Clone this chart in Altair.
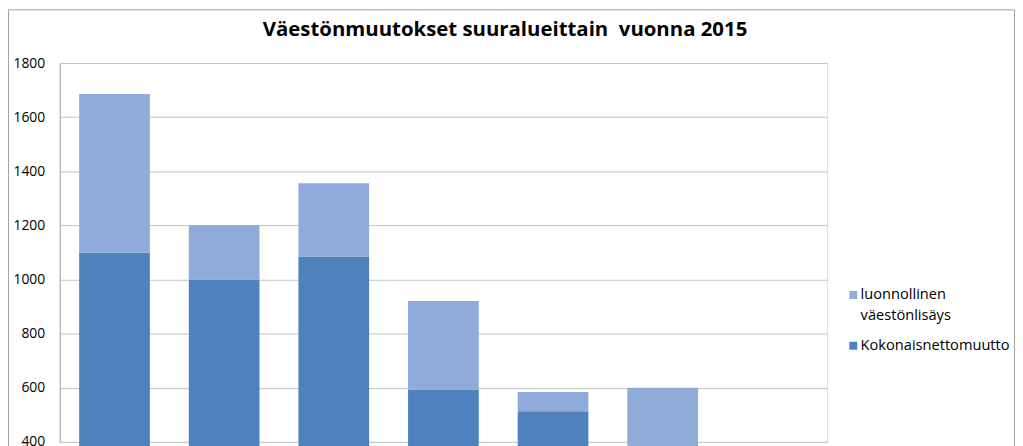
import altair as alt
import pandas as pd

categories = ["Eteläinen", "Läntinen", "Keskinen", "Pohjoinen", "Koillinen", "Kaakkoinen", "Itäinen"]
kokonaisnettomuutto = [1100, 1000, 1084, 593, 513, 180, 120]
luonnollinen = [586, 201, 272, 327, 71, 420, 230]
series = ["luonnollinen väestönlisäys", "Kokonaisnettomuutto"]
y_ticks = [400, 600, 800, 1000, 1200, 1400, 1600, 1800]
colors = ["#8fabd9", "#4f81bd"]
title_text = "Väestönmuutokset suuralueittain\u00a0 vuonna 2015"

rows = []
for c, k, l in zip(categories, kokonaisnettomuutto, luonnollinen):
    rows.append({"alue": c, "sarja": series[1], "arvo": k, "jarj": 0})
    rows.append({"alue": c, "sarja": series[0], "arvo": l, "jarj": 1})
df = pd.DataFrame(rows)

FONT = "Open Sans"

bars = alt.Chart(df).mark_bar().encode(
    x=alt.X("alue:N", sort=categories, axis=None,
            scale=alt.Scale(paddingInner=0.355, paddingOuter=0.1775)),
    y=alt.Y("arvo:Q", stack="zero",
            scale=alt.Scale(domain=[400, 1800], zero=False, nice=False),
            axis=alt.Axis(values=y_ticks, title=None, ticks=False, labelPadding=15, format="d",
                          labelFont=FONT, labelFontSize=14, labelColor="black",
                          gridColor="#c4c4c4", domainColor="#a8a8a8")),
    color=alt.Color("sarja:N", scale=alt.Scale(domain=series, range=colors),
                    legend=alt.Legend(title=None, orient="none", legendX=791, legendY=226,
                                      symbolType="square", symbolSize=64, symbolStrokeWidth=0,
                                      labelFont=FONT, labelFontSize=14.7, labelColor="black",
                                      labelOffset=0, padding=0, rowPadding=14,
                                      labelExpr="datum.label == 'luonnollinen väestönlisäys' ? ['luonnollinen', 'väestönlisäys'] : datum.label")),
    order=alt.Order("jarj:Q"),
)

frame = alt.Chart(pd.DataFrame({"k": [0]})).mark_rect(
    fill="transparent", stroke="#a0a0a0", strokeWidth=1
).encode(x=alt.value(-51.5), x2=alt.value(960.5), y=alt.value(-53.5), y2=alt.value(430))

title = alt.Chart(pd.DataFrame({"t": [title_text]})).mark_text(
    font=FONT, fontSize=20.5, fontWeight="bold", color="black",
    align="center", baseline="alphabetic"
).encode(text="t:N", x=alt.value(448), y=alt.value(-27))

chart = alt.layer(frame, bars, title).properties(
    width=772, height=381,
    autosize="none",
    padding={"left": 52, "top": 54, "right": 189, "bottom": 30},
).configure_view(stroke="#a8a8a8").configure(style={"guide-label": {"lineHeight": 21}})

chart.save("out.html", embed_options={"renderer": "svg", "actions": False})
